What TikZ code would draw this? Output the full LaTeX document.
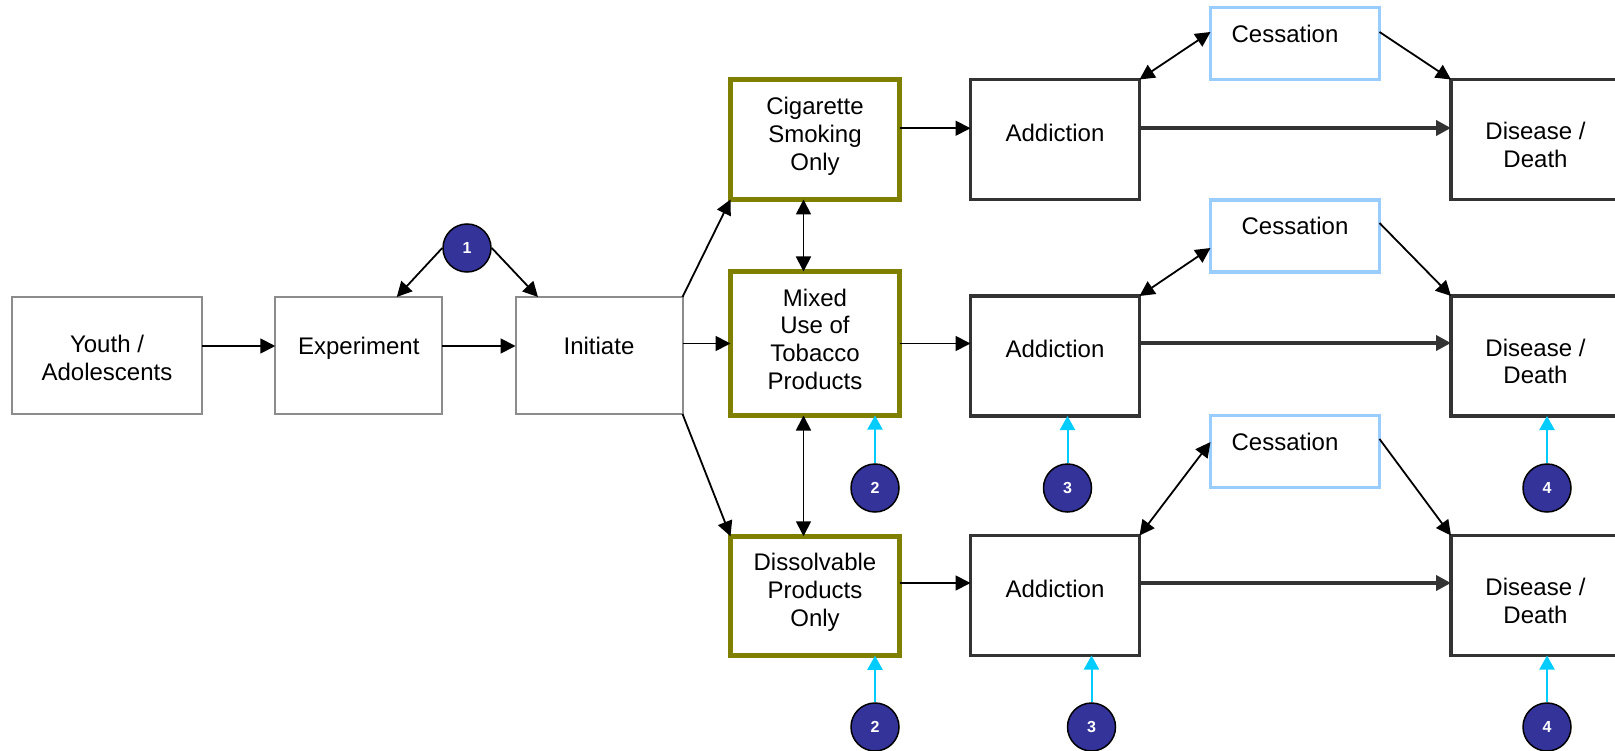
\documentclass[tikz,border=0pt]{standalone}
\usepackage{fontspec}
\setmainfont{Liberation Sans}
\usetikzlibrary{arrows.meta}
\definecolor{stagegray}{HTML}{8C8C8C}
\definecolor{productolive}{HTML}{808000}
\definecolor{outcomegray}{HTML}{333333}
\definecolor{quitblue}{HTML}{99CCFF}
\definecolor{markerblue}{HTML}{333399}
\definecolor{markercyan}{HTML}{00CCFF}
\newcommand{\boxtext}{\fontsize{24}{27.8}\selectfont}
\newcommand{\marktext}{\bfseries\fontsize{16}{16}\selectfont}
\begin{document}
\begin{tikzpicture}[x=1pt,y=-1pt,
    stage/.style={draw=stagegray,line width=2pt,minimum width=167pt,minimum height=117pt},
    product/.style={draw=productolive,line width=5pt,minimum width=169pt,minimum height=119.5pt,text height=66pt,text depth=5pt},
    outcome/.style={draw=outcomegray,line width=3.5pt,minimum width=169pt,minimum height=120pt},
    quit/.style={draw=quitblue,line width=3.5pt,minimum width=169pt,minimum height=72pt,text height=13pt,text depth=15pt},
    oneline/.style={text height=16pt,text depth=12pt},
    twoline/.style={text height=62pt,text depth=6pt},
    tip/.style={-{Triangle[length=15pt,width=15pt]}},
    twoway/.style={{Triangle[length=15pt,width=15pt]}-{Triangle[length=15pt,width=15pt]}}]
  \clip (0,0) rectangle (1615,751);
  \begin{scope}[every node/.style={align=center,font=\boxtext,inner sep=2pt,outer sep=0pt}]
    \node[stage,twoline,text height=56pt,minimum width=190pt] (youth) at (107,355.5) {Youth /\\Adolescents};
    \node[stage,text height=13pt,text depth=15pt] (experiment) at (358.75,355.5) {Experiment};
    \node[stage,text height=13pt,text depth=15pt] (initiate) at (599,355.5) {Initiate};
    \node[product] (cigarette) at (815,139.75) {Cigarette\\Smoking\\Only};
    \node[product,minimum height=144pt,text height=96pt,text depth=4pt] (mixed) at (815,343.5) {Mixed\\Use of\\Tobacco\\Products};
    \node[product] (dissolvable) at (815,596) {Dissolvable\\Products\\Only};
    \node[outcome,oneline] (addictA) at (1055,139.5) {Addiction};
    \node[outcome,oneline] (addictB) at (1055,356) {Addiction};
    \node[outcome,oneline] (addictC) at (1055,595.5) {Addiction};
    \node[quit] (quitA) at (1295,43.5) {Cessation\hspace*{20pt}};
    \node[quit] (quitB) at (1295,236) {Cessation};
    \node[quit] (quitC) at (1295,451.5) {Cessation\hspace*{20pt}};
    \node[outcome,twoline] (diseaseA) at (1535.5,139.5) {Disease /\\Death};
    \node[outcome,twoline] (diseaseB) at (1535.5,356) {Disease /\\Death};
    \node[outcome,twoline] (diseaseC) at (1535.5,595.5) {Disease /\\Death};
  \end{scope}
  \begin{scope}[every edge/.style={draw=black,line width=1.8pt,tip}]
    \path ([yshift=9.5pt]youth.east) edge ([yshift=9.5pt]youth.east -| experiment.west);
    \path ([yshift=9.5pt]experiment.east) edge ([yshift=9.5pt]experiment.east -| initiate.west);
    \path (initiate.east |- mixed.west) edge (mixed.west);
    \path (initiate.north east) edge (cigarette.south west);
    \path (initiate.south east) edge (dissolvable.north west);
    \path ([yshift=11.5pt]cigarette.east) edge ([yshift=11.5pt]cigarette.east -| addictA.west);
    \path (mixed.east) edge (mixed.east -| addictB.west);
    \path ([yshift=13pt]dissolvable.east) edge ([yshift=13pt]dissolvable.east -| addictC.west);
    \path ([yshift=11.5pt]quitA.east) edge (diseaseA.north west);
    \path ([yshift=13pt]quitB.east) edge (diseaseB.north west);
    \path ([yshift=12.5pt]quitC.east) edge (diseaseC.north west);
  \end{scope}
  \begin{scope}[every edge/.style={draw=black,line width=1.8pt,twoway}]
    \path ([xshift=-11.5pt]cigarette.south) edge ([xshift=-11.5pt]mixed.north);
    \path ([xshift=-11.5pt]mixed.south) edge ([xshift=-11.5pt]dissolvable.north);
    \path (addictA.north east) edge ([yshift=11.5pt]quitA.west);
    \path (addictB.north east) edge ([yshift=-12pt]quitB.west);
    \path (addictC.north east) edge ([yshift=9.5pt]quitC.west);
  \end{scope}
  \begin{scope}[every edge/.style={draw=outcomegray,line width=4pt,tip}]
    \path ([yshift=11.5pt]addictA.east) edge ([yshift=11.5pt]addictA.east -| diseaseA.west);
    \path ([yshift=13pt]addictB.east) edge ([yshift=13pt]addictB.east -| diseaseB.west);
    \path ([yshift=12.5pt]addictC.east) edge ([yshift=12.5pt]addictC.east -| diseaseC.west);
  \end{scope}
  \begin{scope}[every node/.style={circle,draw=black,line width=1.5pt,fill=markerblue,text=white,font=\marktext,minimum size=48pt,inner sep=0pt}]
    \node (markA) at (467,248) {1};
    \node (markB) at (875,488) {2};
    \node (markC) at (1067.5,488) {3};
    \node (markD) at (1547,488) {4};
    \node (markE) at (875,727) {2};
    \node (markF) at (1091.5,727) {3};
    \node (markG) at (1547,727) {4};
  \end{scope}
  \begin{scope}[every edge/.style={draw=black,line width=1.8pt,tip}]
    \path (markA.west) edge ([xshift=38pt]experiment.north);
    \path (markA.east) edge ([xshift=-61pt]initiate.north);
  \end{scope}
  \begin{scope}[every edge/.style={draw=markercyan,line width=2pt,-{Triangle[length=14pt,width=15pt]}}]
    \path (markB.north) edge (markB.north |- mixed.south);
    \path (markC.north) edge (markC.north |- addictB.south);
    \path (markD.north) edge (markD.north |- diseaseB.south);
    \path (markE.north) edge (markE.north |- dissolvable.south);
    \path (markF.north) edge (markF.north |- addictC.south);
    \path (markG.north) edge (markG.north |- diseaseC.south);
  \end{scope}
\end{tikzpicture}
\end{document}
